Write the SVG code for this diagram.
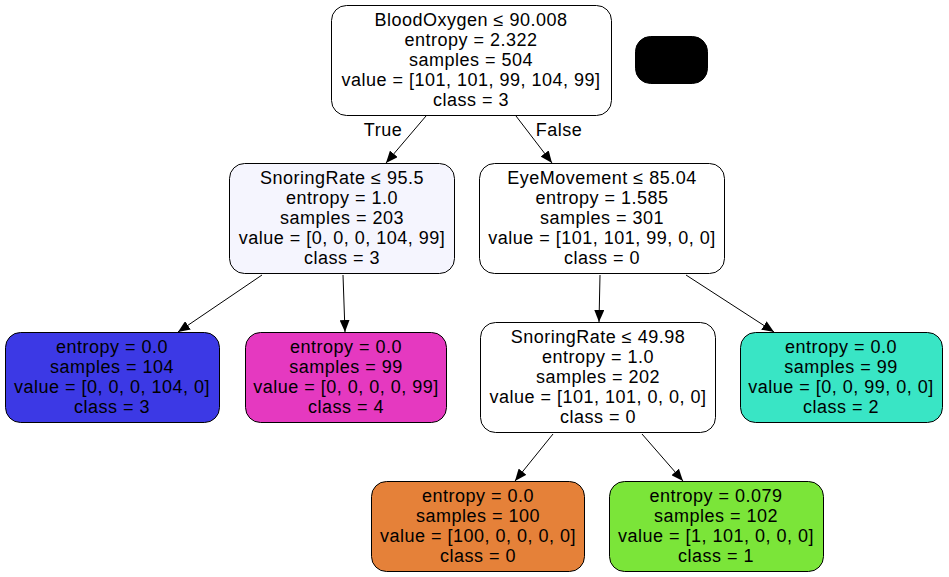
<svg xmlns="http://www.w3.org/2000/svg" width="949" height="577" viewBox="0 0 949 577">
<defs>
<style>
.n{stroke:#000;stroke-width:1}
.t{font-family:"Liberation Sans",Arial,sans-serif;font-size:18px;letter-spacing:0.5px;text-anchor:middle;fill:#000}
.e{stroke:#000;stroke-width:1;fill:none;marker-end:url(#ah)}
</style>
<marker id="ah" markerUnits="userSpaceOnUse" markerWidth="12" markerHeight="10" viewBox="0 0 12 10" refX="12" refY="5" orient="auto">
<polygon points="0,0 12,5 0,10" fill="#000"/>
</marker>
</defs>
<rect width="949" height="577" fill="#fff"/>
<g id="connectors">
<line class="e" x1="426" y1="116" x2="386" y2="163"/>
<line class="e" x1="516" y1="116" x2="552" y2="163"/>
<line class="e" x1="262" y1="275" x2="178" y2="332"/>
<line class="e" x1="343" y1="275" x2="345" y2="332"/>
<line class="e" x1="600" y1="275" x2="599" y2="322"/>
<line class="e" x1="686" y1="275" x2="774" y2="332"/>
<line class="e" x1="553" y1="434" x2="515" y2="481"/>
<line class="e" x1="642" y1="434" x2="683" y2="481"/>
<text class="t" x="383" y="136">True</text>
<text class="t" x="559" y="136">False</text>
</g>
<g id="node0">
<rect class="n" x="331.5" y="5.5" width="280" height="110" rx="15" fill="#fff"/>
<text class="t" x="471" y="26">BloodOxygen ≤ 90.008</text>
<text class="t" x="471" y="46">entropy = 2.322</text>
<text class="t" x="471" y="66">samples = 504</text>
<text class="t" x="471" y="86">value = [101, 101, 99, 104, 99]</text>
<text class="t" x="471" y="106">class = 3</text>
</g>
<g id="legend">
<rect x="635.5" y="36.5" width="72" height="47" rx="15" fill="#000" stroke="#000"/>
</g>
<g id="node1">
<rect class="n" x="229.5" y="163.5" width="225" height="110" rx="15" fill="#f5f5fe"/>
<text class="t" x="342" y="184">SnoringRate ≤ 95.5</text>
<text class="t" x="342" y="204">entropy = 1.0</text>
<text class="t" x="342" y="224">samples = 203</text>
<text class="t" x="342" y="244">value = [0, 0, 0, 104, 99]</text>
<text class="t" x="342" y="264">class = 3</text>
</g>
<g id="node2">
<rect class="n" x="5.5" y="332.5" width="214" height="90" rx="15" fill="#3c39e5"/>
<text class="t" x="112" y="353">entropy = 0.0</text>
<text class="t" x="112" y="373">samples = 104</text>
<text class="t" x="112" y="393">value = [0, 0, 0, 104, 0]</text>
<text class="t" x="112" y="413">class = 3</text>
</g>
<g id="node3">
<rect class="n" x="245.5" y="332.5" width="201" height="90" rx="15" fill="#e539c0"/>
<text class="t" x="346" y="353">entropy = 0.0</text>
<text class="t" x="346" y="373">samples = 99</text>
<text class="t" x="346" y="393">value = [0, 0, 0, 0, 99]</text>
<text class="t" x="346" y="413">class = 4</text>
</g>
<g id="node4">
<rect class="n" x="479.5" y="163.5" width="245" height="110" rx="15" fill="#fff"/>
<text class="t" x="602" y="184">EyeMovement ≤ 85.04</text>
<text class="t" x="602" y="204">entropy = 1.585</text>
<text class="t" x="602" y="224">samples = 301</text>
<text class="t" x="602" y="244">value = [101, 101, 99, 0, 0]</text>
<text class="t" x="602" y="264">class = 0</text>
</g>
<g id="node5">
<rect class="n" x="480.5" y="322.5" width="235" height="110" rx="15" fill="#fff"/>
<text class="t" x="598" y="343">SnoringRate ≤ 49.98</text>
<text class="t" x="598" y="363">entropy = 1.0</text>
<text class="t" x="598" y="383">samples = 202</text>
<text class="t" x="598" y="403">value = [101, 101, 0, 0, 0]</text>
<text class="t" x="598" y="423">class = 0</text>
</g>
<g id="node6">
<rect class="n" x="371.5" y="481.5" width="213" height="90" rx="15" fill="#e58139"/>
<text class="t" x="478" y="502">entropy = 0.0</text>
<text class="t" x="478" y="522">samples = 100</text>
<text class="t" x="478" y="542">value = [100, 0, 0, 0, 0]</text>
<text class="t" x="478" y="562">class = 0</text>
</g>
<g id="node7">
<rect class="n" x="609.5" y="481.5" width="214" height="90" rx="15" fill="#7be539"/>
<text class="t" x="716" y="502">entropy = 0.079</text>
<text class="t" x="716" y="522">samples = 102</text>
<text class="t" x="716" y="542">value = [1, 101, 0, 0, 0]</text>
<text class="t" x="716" y="562">class = 1</text>
</g>
<g id="node8">
<rect class="n" x="740.5" y="332.5" width="202" height="90" rx="15" fill="#39e5c5"/>
<text class="t" x="841" y="353">entropy = 0.0</text>
<text class="t" x="841" y="373">samples = 99</text>
<text class="t" x="841" y="393">value = [0, 0, 99, 0, 0]</text>
<text class="t" x="841" y="413">class = 2</text>
</g>
</svg>
